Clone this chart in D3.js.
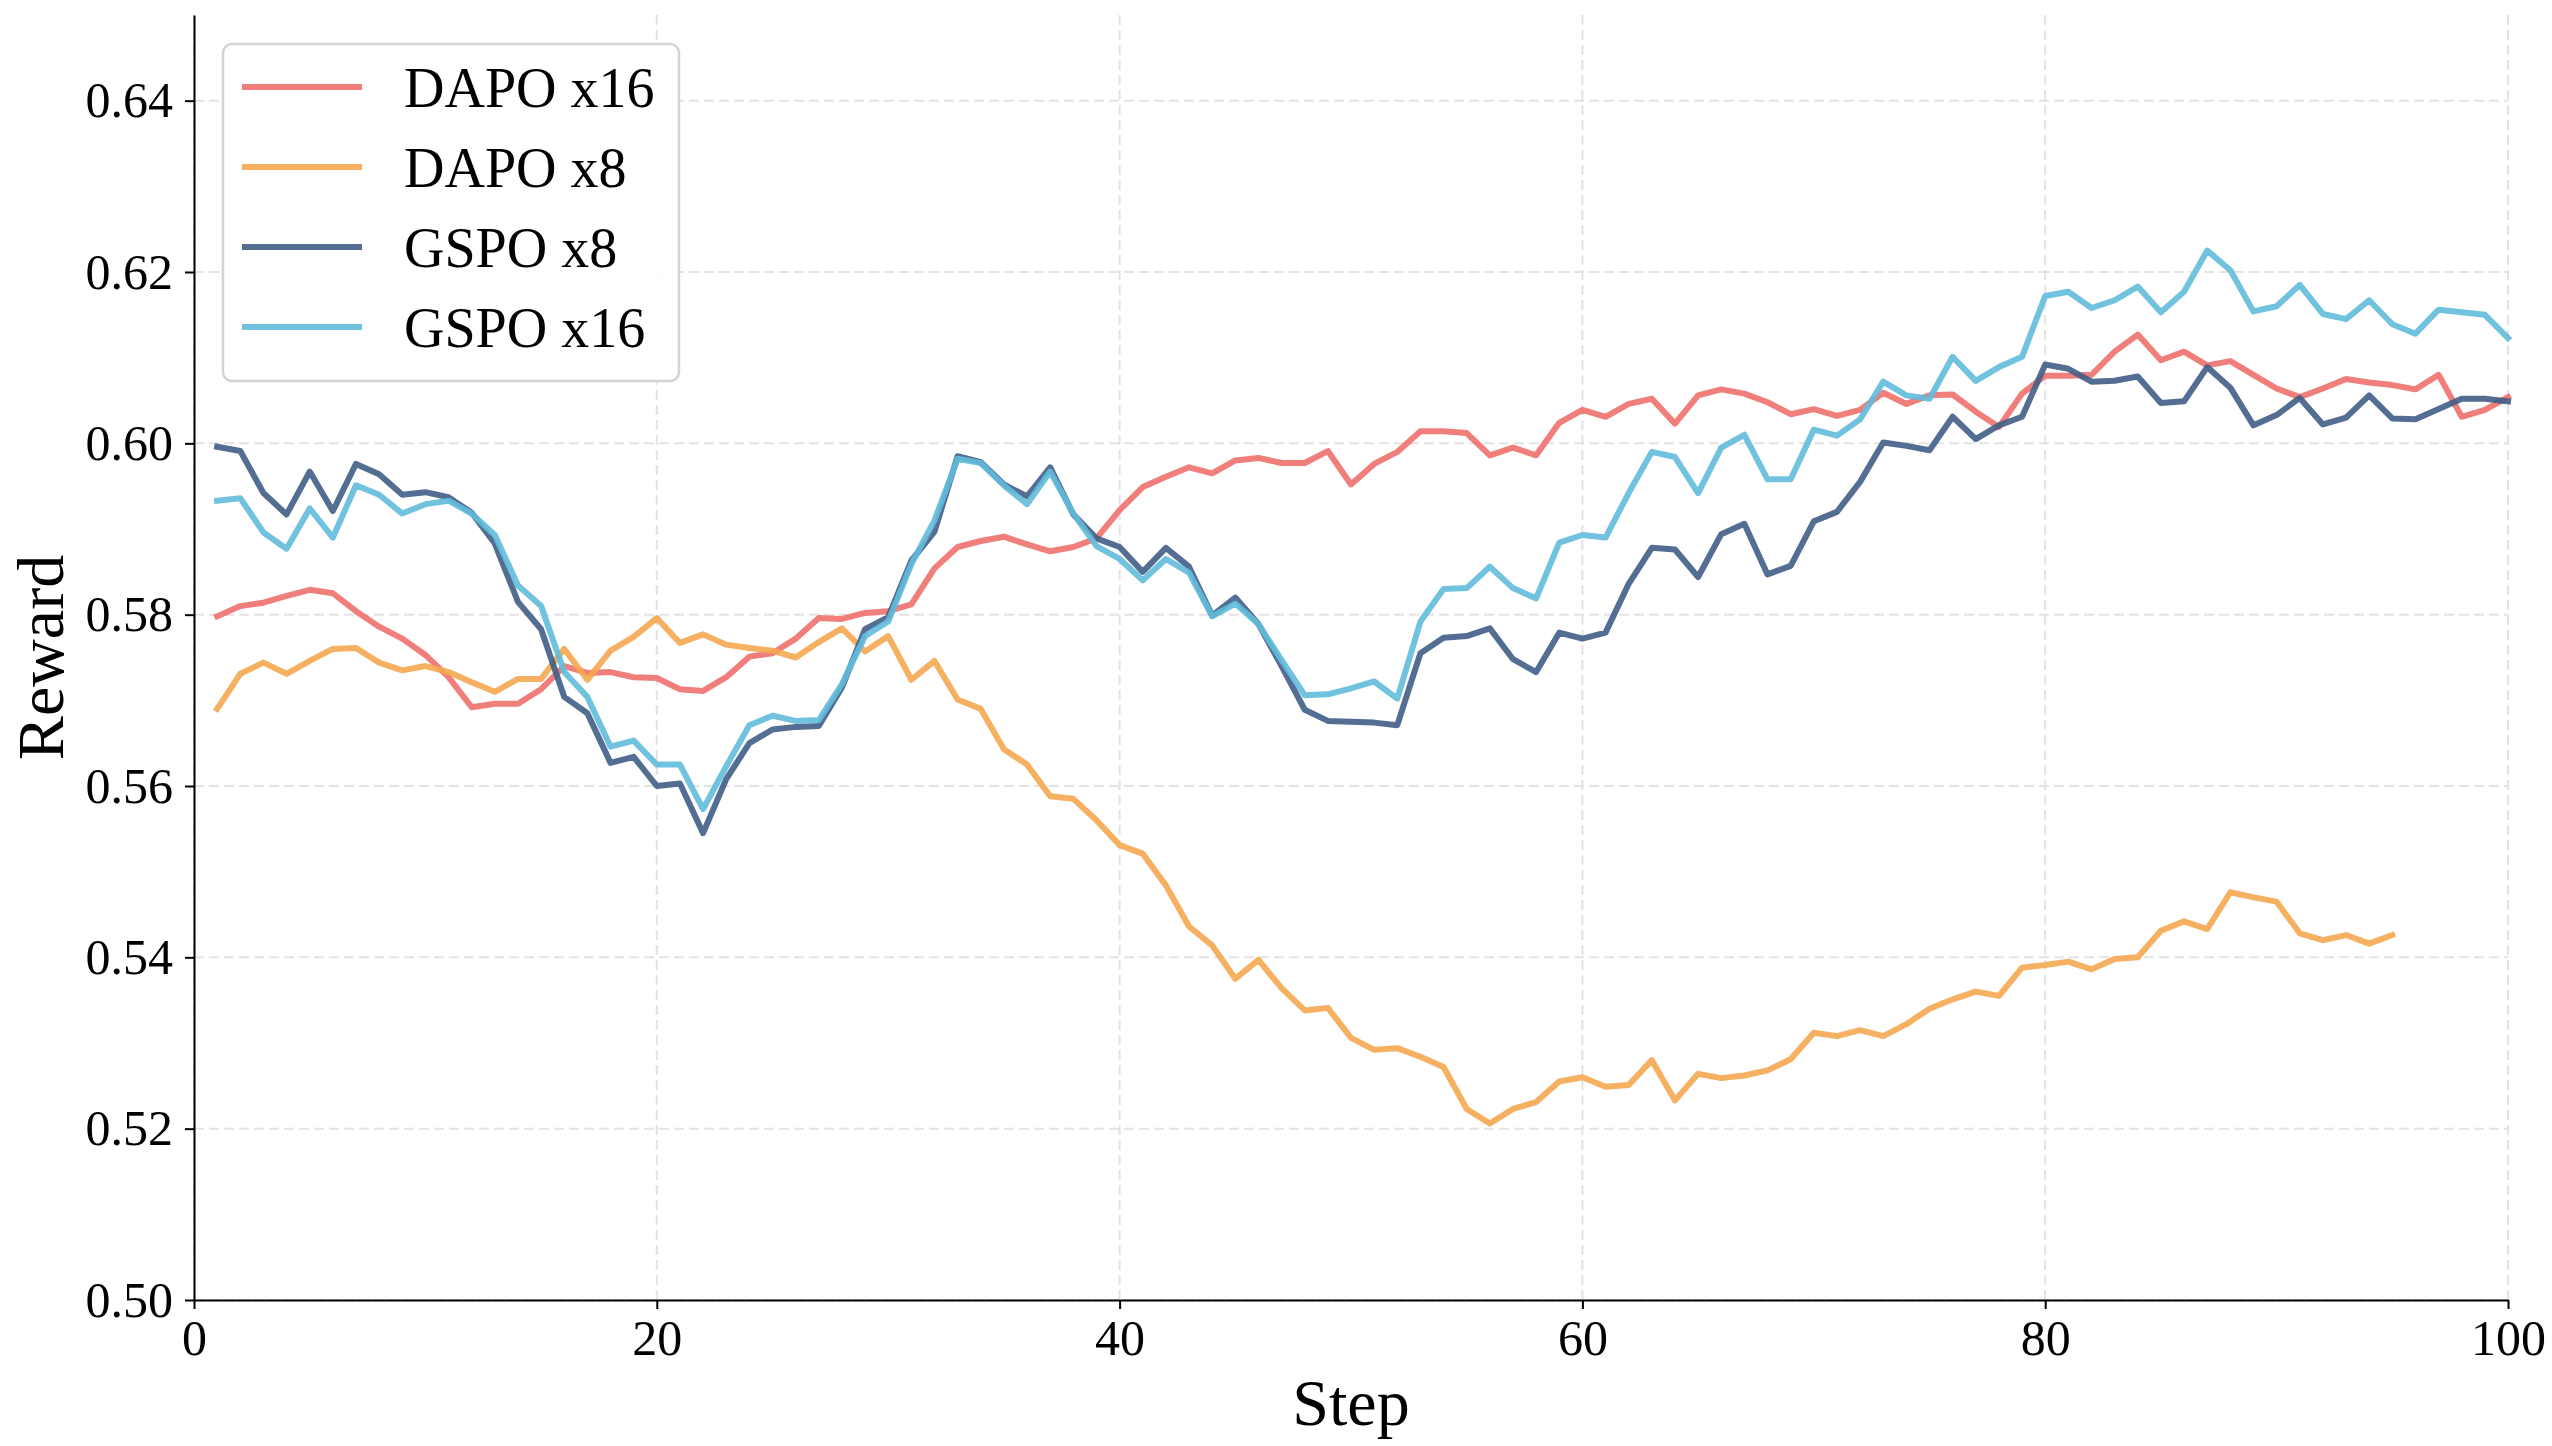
<!DOCTYPE html>
<html>
<head>
<meta charset="utf-8">
<script src="https://cdn.jsdelivr.net/npm/d3@7"></script>
<style>
  body { margin: 0; background: #fff; }
  svg { display: block; font-family: "Liberation Serif", "Times New Roman", serif; }
</style>
</head>
<body>
<svg id="chart" width="2552" height="1446"></svg>
<script>
const seriesNames = ['DAPO x16', 'DAPO x8', 'GSPO x8', 'GSPO x16'];
const seriesColors = ['#EE706B', '#F4A751', '#405E86', '#62BBDB'];

const xTicks = [0, 20, 40, 60, 80, 100];
const yTicks = [0.50, 0.52, 0.54, 0.56, 0.58, 0.60, 0.62, 0.64];

// rewards per step, starting at step 1
const dapo16 = [
  0.5798, 0.5810, 0.5814, 0.5822, 0.5829, 0.5825, 0.5804, 0.5786, 0.5772, 0.5753,
  0.5727, 0.5692, 0.5696, 0.5696, 0.5713, 0.5740, 0.5732, 0.5733, 0.5727, 0.5726,
  0.5713, 0.5711, 0.5727, 0.5751, 0.5755, 0.5772, 0.5796, 0.5795, 0.5802, 0.5804,
  0.5812, 0.5854, 0.5879, 0.5886, 0.5891, 0.5882, 0.5874, 0.5879, 0.5889, 0.5922,
  0.5949, 0.5961, 0.5972, 0.5965, 0.5980, 0.5983, 0.5977, 0.5977, 0.5991, 0.5952,
  0.5976, 0.5990, 0.6014, 0.6014, 0.6012, 0.5986, 0.5995, 0.5986, 0.6024, 0.6039,
  0.6031, 0.6046, 0.6052, 0.6023, 0.6056, 0.6063, 0.6058, 0.6048, 0.6034, 0.6040,
  0.6032, 0.6039, 0.6059, 0.6046, 0.6056, 0.6057, 0.6037, 0.6019, 0.6058, 0.6079,
  0.6079, 0.6080, 0.6107, 0.6127, 0.6097, 0.6107, 0.6091, 0.6096, 0.6080, 0.6064,
  0.6054, 0.6064, 0.6075, 0.6071, 0.6068, 0.6063, 0.6080, 0.6031, 0.6039, 0.6054
];

const dapo8 = [
  0.5690, 0.5731, 0.5744, 0.5731, 0.5746, 0.5760, 0.5761, 0.5744, 0.5735, 0.5740,
  0.5733, 0.5721, 0.5710, 0.5725, 0.5725, 0.5760, 0.5724, 0.5758, 0.5774, 0.5796,
  0.5767, 0.5777, 0.5765, 0.5761, 0.5758, 0.5750, 0.5768, 0.5784, 0.5757, 0.5775,
  0.5724, 0.5746, 0.5701, 0.5690, 0.5643, 0.5625, 0.5588, 0.5585, 0.5560, 0.5531,
  0.5521, 0.5484, 0.5436, 0.5414, 0.5375, 0.5397, 0.5364, 0.5338, 0.5341, 0.5306,
  0.5292, 0.5294, 0.5284, 0.5272, 0.5223, 0.5206, 0.5223, 0.5231, 0.5255, 0.5260,
  0.5249, 0.5251, 0.5280, 0.5233, 0.5264, 0.5259, 0.5262, 0.5268, 0.5281, 0.5312,
  0.5308, 0.5315, 0.5308, 0.5322, 0.5340, 0.5351, 0.5360, 0.5355, 0.5388, 0.5391,
  0.5395, 0.5386, 0.5398, 0.5400, 0.5431, 0.5442, 0.5433, 0.5476, 0.5470, 0.5465,
  0.5428, 0.5420, 0.5426, 0.5416, 0.5426
];

const gspo8 = [
  0.5996, 0.5991, 0.5942, 0.5917, 0.5967, 0.5921, 0.5976, 0.5964, 0.5940, 0.5943,
  0.5937, 0.5919, 0.5883, 0.5815, 0.5783, 0.5704, 0.5685, 0.5627, 0.5634, 0.5600,
  0.5603, 0.5545, 0.5608, 0.5650, 0.5666, 0.5669, 0.5670, 0.5715, 0.5783, 0.5797,
  0.5863, 0.5897, 0.5985, 0.5978, 0.5952, 0.5938, 0.5972, 0.5917, 0.5889, 0.5879,
  0.5850, 0.5878, 0.5856, 0.5799, 0.5820, 0.5789, 0.5740, 0.5689, 0.5676, 0.5675,
  0.5674, 0.5671, 0.5755, 0.5773, 0.5775, 0.5784, 0.5748, 0.5733, 0.5779, 0.5772,
  0.5779, 0.5836, 0.5878, 0.5876, 0.5844, 0.5894, 0.5906, 0.5847, 0.5857, 0.5909,
  0.5920, 0.5955, 0.6001, 0.5997, 0.5992, 0.6031, 0.6005, 0.6021, 0.6031, 0.6092,
  0.6087, 0.6072, 0.6073, 0.6078, 0.6047, 0.6049, 0.6089, 0.6065, 0.6021, 0.6033,
  0.6053, 0.6022, 0.6030, 0.6056, 0.6029, 0.6028, 0.6040, 0.6052, 0.6052, 0.6049
];

const gspo16 = [
  0.5933, 0.5936, 0.5896, 0.5877, 0.5924, 0.5890, 0.5951, 0.5940, 0.5918, 0.5929,
  0.5933, 0.5918, 0.5893, 0.5834, 0.5810, 0.5733, 0.5704, 0.5646, 0.5653, 0.5625,
  0.5625, 0.5573, 0.5623, 0.5671, 0.5682, 0.5676, 0.5677, 0.5719, 0.5775, 0.5792,
  0.5859, 0.5910, 0.5982, 0.5977, 0.5951, 0.5929, 0.5967, 0.5918, 0.5880, 0.5865,
  0.5840, 0.5865, 0.5849, 0.5798, 0.5813, 0.5789, 0.5747, 0.5706, 0.5707, 0.5714,
  0.5722, 0.5702, 0.5792, 0.5830, 0.5831, 0.5856, 0.5831, 0.5819, 0.5884, 0.5893,
  0.5890, 0.5942, 0.5990, 0.5984, 0.5942, 0.5995, 0.6010, 0.5958, 0.5958, 0.6016,
  0.6009, 0.6028, 0.6072, 0.6056, 0.6052, 0.6101, 0.6073, 0.6089, 0.6101, 0.6172,
  0.6177, 0.6158, 0.6167, 0.6183, 0.6153, 0.6177, 0.6225, 0.6202, 0.6154, 0.6160,
  0.6185, 0.6151, 0.6145, 0.6167, 0.6139, 0.6128, 0.6156, 0.6153, 0.6150, 0.6123
];

const allSeries = [dapo16, dapo8, gspo8, gspo16];

const margin = { left: 194, right: 44, top: 15, bottom: 146 };
const width = 2552, height = 1446;

const svg = d3.select('#chart');

const x = d3.scaleLinear()
  .domain([0, 100])
  .range([margin.left, width - margin.right]);

const y = d3.scaleLinear()
  .domain([0.50, 0.65])
  .range([height - margin.bottom, margin.top]);

// grid
svg.append('g')
  .selectAll('line')
  .data(xTicks)
  .join('line')
    .attr('x1', d => x(d)).attr('x2', d => x(d))
    .attr('y1', y.range()[0]).attr('y2', y.range()[1])
    .attr('stroke', '#e3e3e3')
    .attr('stroke-width', 2)
    .attr('stroke-dasharray', '10,5');

svg.append('g')
  .selectAll('line')
  .data(yTicks)
  .join('line')
    .attr('x1', x.range()[0]).attr('x2', x.range()[1])
    .attr('y1', d => y(d)).attr('y2', d => y(d))
    .attr('stroke', '#e3e3e3')
    .attr('stroke-width', 2)
    .attr('stroke-dasharray', '10,5');

// lines
const line = d3.line()
  .x((d, i) => x(i + 1))
  .y(d => y(d));

svg.append('g')
  .selectAll('path')
  .data(allSeries)
  .join('path')
    .attr('d', line)
    .attr('fill', 'none')
    .attr('stroke', (d, i) => seriesColors[i])
    .attr('stroke-width', 6)
    .attr('stroke-opacity', 0.9)
    .attr('stroke-linejoin', 'round')
    .attr('stroke-linecap', 'square');

// axes
const xAxis = svg.append('g')
  .attr('transform', `translate(0,${y(0.50)})`)
  .call(d3.axisBottom(x)
    .tickValues(xTicks)
    .tickFormat(d3.format('d'))
    .tickSize(9)
    .tickPadding(10)
    .tickSizeOuter(0));

const yAxis = svg.append('g')
  .attr('transform', `translate(${x(0)},0)`)
  .call(d3.axisLeft(y)
    .tickValues(yTicks)
    .tickFormat(d3.format('.2f'))
    .tickSize(9)
    .tickPadding(12)
    .tickSizeOuter(0));

[xAxis, yAxis].forEach(ax => {
  ax.select('.domain').attr('stroke', '#000').attr('stroke-width', 2);
  ax.selectAll('.tick line').attr('stroke', '#000').attr('stroke-width', 2);
  ax.selectAll('.tick text')
    .attr('fill', '#000')
    .style('font-family', '"Liberation Serif", "Times New Roman", serif')
    .style('font-size', '50px');
});

svg.append('text')
  .attr('x', (x.range()[0] + x.range()[1]) / 2)
  .attr('y', 1425)
  .attr('text-anchor', 'middle')
  .style('font-size', '66px')
  .text('Step');

svg.append('text')
  .attr('transform', `translate(63,${(y.range()[0] + y.range()[1]) / 2}) rotate(-90)`)
  .attr('text-anchor', 'middle')
  .style('font-size', '66px')
  .text('Reward');

// legend
const legend = svg.append('g');

legend.append('rect')
  .attr('x', 223)
  .attr('y', 44)
  .attr('width', 456)
  .attr('height', 337)
  .attr('rx', 9)
  .attr('fill', '#fff')
  .attr('fill-opacity', 0.9)
  .attr('stroke', '#d3d3d3')
  .attr('stroke-width', 2.5);

const entry = legend.selectAll('g.entry')
  .data(seriesNames)
  .join('g')
    .attr('class', 'entry')
    .attr('transform', (d, i) => `translate(0,${87 + i * 80})`);

entry.append('line')
  .attr('x1', 242).attr('x2', 362)
  .attr('stroke', (d, i) => seriesColors[i])
  .attr('stroke-opacity', 0.9)
  .attr('stroke-width', 6);

entry.append('text')
  .attr('x', 404)
  .attr('y', 20)
  .style('font-size', '56px')
  .text(d => d);
</script>
</body>
</html>
